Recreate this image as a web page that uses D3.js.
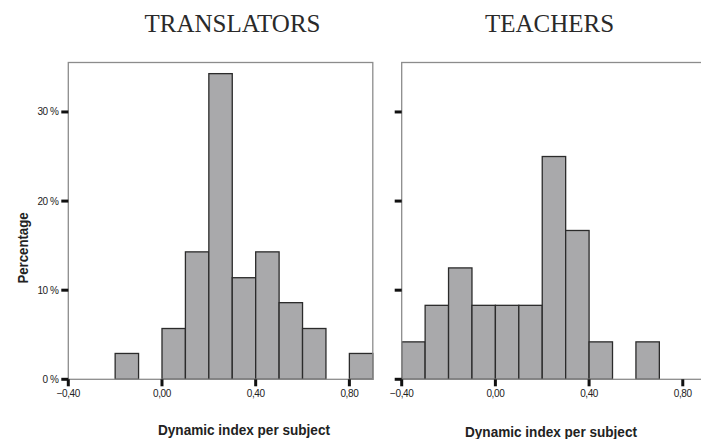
<!DOCTYPE html>
<html>
<head>
    <meta charset="utf-8">
    <script src="https://cdn.jsdelivr.net/npm/d3@7"></script>
    <style>
        body { margin: 0; background: #fff; }
        svg { display: block; }
    </style>
</head>
<body>
    <script>
        // bin lower edges, width 0.1
        var binStarts = [-0.4, -0.3, -0.2, -0.1, 0.0, 0.1, 0.2, 0.3, 0.4, 0.5, 0.6, 0.7, 0.8];
        // percentages per bin
        var translators = [0, 0, 2.9, 0, 5.7, 14.3, 34.3, 11.4, 14.3, 8.6, 5.7, 0, 2.9];
        var teachers = [4.2, 8.3, 12.5, 8.3, 8.3, 8.3, 25.0, 16.7, 4.2, 0, 4.2, 0, 0];
        var yTicks = [0, 10, 20, 30];
        var xTicks = [-0.4, 0, 0.4, 0.8];
        var binWidth = 0.1;

        var svg = d3.select('body')
            .append('svg')
            .attr('width', 701)
            .attr('height', 439);

        var y = d3.scaleLinear().domain([0, 35.55]).range([379.3, 62.5]);

        function panel(values, left, title, titleX, xTitleX, xTitleY, showYLabels) {
            var x = d3.scaleLinear().domain([-0.4, 0.9]).range([left, left + 304.5]);
            var g = svg.append('g');

            var bins = binStarts.map(function (b, i) { return { x0: b, v: values[i] }; })
                .filter(function (d) { return d.v > 0; });

            // bars
            g.selectAll('rect.bar')
                .data(bins)
                .enter()
                .append('rect')
                .attr('class', 'bar')
                .attr('x', function (d) { return x(d.x0); })
                .attr('width', function (d) { return x(d.x0 + binWidth) - x(d.x0); })
                .attr('y', function (d) { return y(d.v); })
                .attr('height', function (d) { return y(0) - y(d.v); })
                .attr('fill', '#a9a9ab')
                .attr('stroke', '#2b2b2b')
                .attr('stroke-width', 1.3);

            // frame
            g.append('rect')
                .attr('x', x(-0.4))
                .attr('y', y.range()[1])
                .attr('width', x(0.9) - x(-0.4))
                .attr('height', y(0) - y.range()[1])
                .attr('fill', 'none')
                .attr('stroke', '#8c8c8c')
                .attr('stroke-width', 1.3);

            // y ticks
            g.selectAll('line.yt')
                .data(yTicks)
                .enter()
                .append('line')
                .attr('x1', left - 7).attr('x2', left)
                .attr('y1', function (d) { return y(d); })
                .attr('y2', function (d) { return y(d); })
                .attr('stroke', '#111')
                .attr('stroke-width', 3);

            if (showYLabels) {
                g.selectAll('text.yl')
                    .data(yTicks)
                    .enter()
                    .append('text')
                    .attr('x', left - 10)
                    .attr('y', function (d) { return y(d) + 3.5; })
                    .attr('text-anchor', 'end')
                    .style('font-family', 'Liberation Sans, Arial, sans-serif')
                    .style('font-size', '10px')
                    .style('letter-spacing', '-0.5px')
                    .attr('fill', '#222')
                    .text(function (d) { return d + ' %'; });
            }

            // x ticks
            g.selectAll('line.xt')
                .data(xTicks)
                .enter()
                .append('line')
                .attr('x1', function (d) { return x(d); })
                .attr('x2', function (d) { return x(d); })
                .attr('y1', y(0)).attr('y2', y(0) + 7)
                .attr('stroke', '#111')
                .attr('stroke-width', 3);

            g.selectAll('text.xl')
                .data(xTicks)
                .enter()
                .append('text')
                .attr('x', function (d) { return x(d); })
                .attr('y', 397)
                .attr('text-anchor', 'middle')
                .style('font-family', 'Liberation Sans, Arial, sans-serif')
                .style('font-size', '10px')
                .style('letter-spacing', '-0.4px')
                .attr('fill', '#222')
                .text(function (d) { return d3.format('.2f')(d).replace('.', ','); });

            // titles
            g.append('text')
                .attr('x', titleX)
                .attr('y', 32)
                .attr('text-anchor', 'middle')
                .style('font-family', 'Liberation Serif, Times New Roman, serif')
                .style('font-size', '25px')
                .attr('fill', '#2a2a2a')
                .text(title);

            g.append('text')
                .attr('x', xTitleX)
                .attr('y', xTitleY)
                .attr('text-anchor', 'middle')
                .attr('textLength', 172)
                .attr('lengthAdjust', 'spacingAndGlyphs')
                .style('font-family', 'Liberation Sans Narrow, Liberation Sans, Arial, sans-serif')
                .style('font-weight', 'bold')
                .style('font-size', '15px')
                .attr('fill', '#222')
                .text('Dynamic index per subject');
        }

        panel(translators, 68.3, 'TRANSLATORS', 232.5, 244, 435, true);
        panel(teachers, 401.7, 'TEACHERS', 549.5, 551, 437, false);

        svg.append('text')
            .attr('transform', 'translate(28,248) rotate(-90)')
            .attr('text-anchor', 'middle')
            .attr('textLength', 71)
            .attr('lengthAdjust', 'spacingAndGlyphs')
            .style('font-family', 'Liberation Sans Narrow, Liberation Sans, Arial, sans-serif')
            .style('font-weight', 'bold')
            .style('font-size', '14px')
            .attr('fill', '#222')
            .text('Percentage');
    </script>
</body>
</html>
